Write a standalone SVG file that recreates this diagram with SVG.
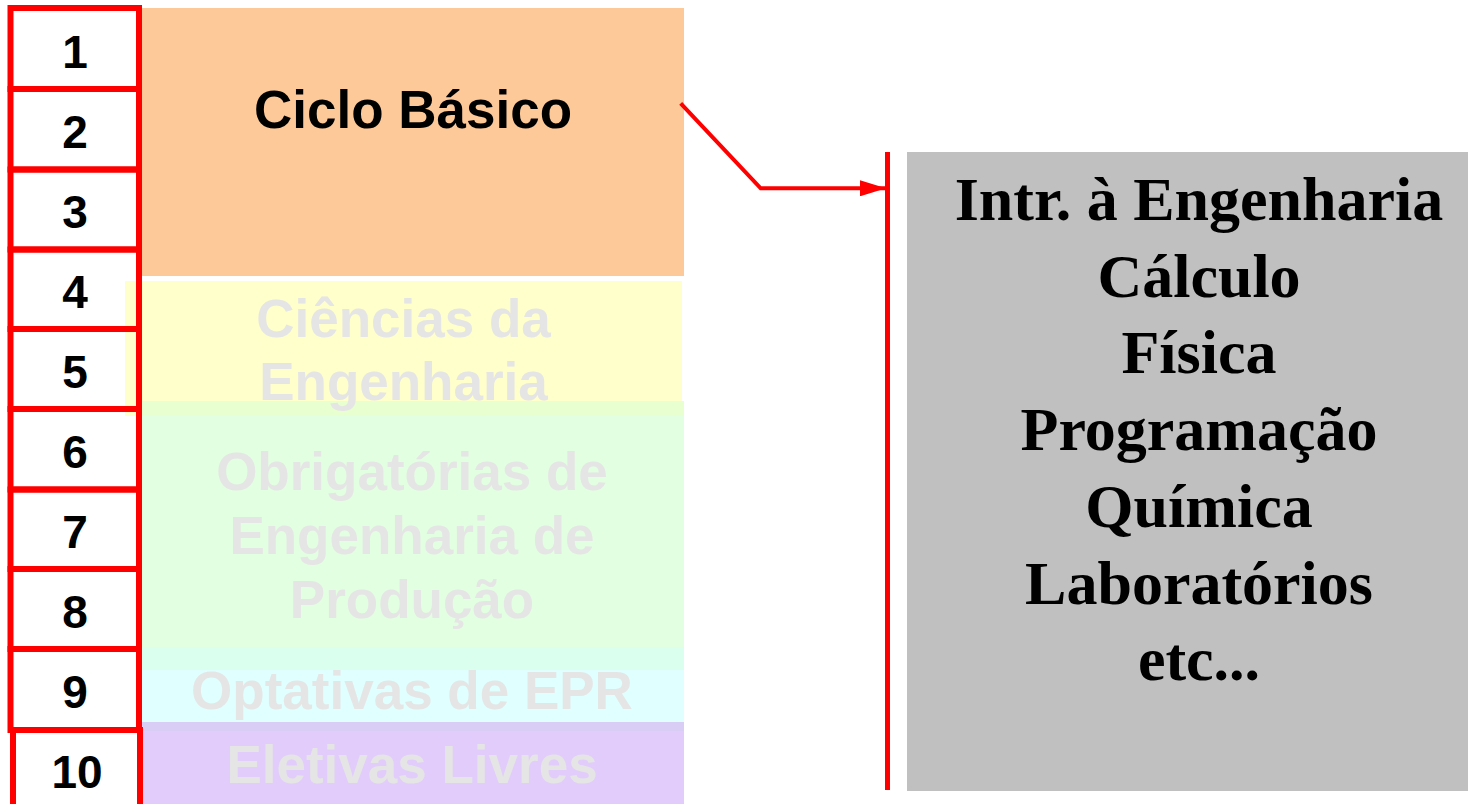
<svg xmlns="http://www.w3.org/2000/svg" width="1468" height="804" viewBox="0 0 1468 804">
<style>
.num{font-family:"Liberation Sans",Arial,sans-serif;font-weight:bold;font-size:46px;fill:#000;text-anchor:middle}
.blk{font-family:"Liberation Sans",Arial,sans-serif;font-weight:bold;font-size:53px;text-anchor:middle}
.fade{fill:#E5E5E5}
.box{fill:none;stroke:#FF0000;stroke-width:6}
.ser{font-family:"Liberation Serif","Times New Roman",serif;font-weight:bold;font-size:62px;fill:#000;text-anchor:middle}
</style>
<defs>
<marker id="ah" markerWidth="7" markerHeight="4" refX="6.5" refY="2" orient="auto" markerUnits="strokeWidth">
<path d="M0,0 L6.5,2 L0,4 Z" fill="#FF0000"/>
</marker>
</defs>
<rect width="1468" height="804" fill="#FFFFFF"/>
<g id="ciclo-basico">
<rect x="142" y="8" width="542" height="268" fill="#FDC998"/>
<text class="blk" x="413" y="128">Ciclo Básico</text>
</g>
<g id="obrigatorias">
<rect x="142" y="401" width="542" height="269" fill="#E3FFE1"/>
<rect x="142" y="401" width="542" height="15" fill="#E8FFD0"/>
<text class="blk fade" x="412" y="490">Obrigatórias de</text>
<text class="blk fade" x="412" y="554">Engenharia de</text>
<text class="blk fade" x="412" y="618">Produção</text>
</g>
<g id="ciencias">
<rect x="125" y="281" width="557" height="120" fill="#FFFFCC"/>
<rect x="125" y="401" width="17" height="15" fill="#FFFFCC"/>
<text class="blk fade" x="403.5" y="337">Ciências da</text>
<text class="blk fade" x="403.5" y="400">Engenharia</text>
</g>
<g id="optativas">
<rect x="142" y="647" width="542" height="84" fill="#E0FFFF"/>
<rect x="142" y="647" width="542" height="23" fill="#DAFFEE"/>
<text class="blk fade" x="412" y="709">Optativas de EPR</text>
</g>
<g id="eletivas">
<rect x="142" y="722" width="542" height="82" fill="#E1CCFB"/>
<rect x="142" y="722" width="542" height="9" fill="#D9CDF6"/>
<text class="blk fade" x="412" y="783">Eletivas Livres</text>
</g>
<g id="semestres">
<rect class="box" x="10.5" y="8" width="128.5" height="81"/>
<rect class="box" x="10.5" y="89" width="128.5" height="80.5"/>
<rect class="box" x="10.5" y="169.5" width="128.5" height="80"/>
<rect class="box" x="10.5" y="249.5" width="128.5" height="79.5"/>
<rect class="box" x="10.5" y="329" width="128.5" height="80"/>
<rect class="box" x="10.5" y="409" width="128.5" height="80.5"/>
<rect class="box" x="10.5" y="489.5" width="128.5" height="79.5"/>
<rect class="box" x="10.5" y="569" width="128.5" height="80"/>
<rect class="box" x="10.5" y="649" width="128.5" height="81"/>
<rect class="box" x="13" y="730" width="127" height="84"/>
<text class="num" x="75" y="68">1</text>
<text class="num" x="75" y="148">2</text>
<text class="num" x="75" y="228">3</text>
<text class="num" x="75" y="308">4</text>
<text class="num" x="75" y="388">5</text>
<text class="num" x="75" y="468">6</text>
<text class="num" x="75" y="548">7</text>
<text class="num" x="75" y="628">8</text>
<text class="num" x="75" y="708">9</text>
<text class="num" x="77" y="788">10</text>
</g>
<g id="connectors">
<polyline points="680.7,103.3 760.7,188.3 886,188.3" fill="none" stroke="#FF0000" stroke-width="4" marker-end="url(#ah)"/>
<line x1="887.5" y1="152" x2="887.5" y2="790" stroke="#FF0000" stroke-width="5"/>
</g>
<g id="disciplinas">
<rect x="907" y="152" width="561" height="639" fill="#C0C0C0"/>
<text class="ser" x="1199" y="220">Intr. à Engenharia</text>
<text class="ser" x="1199" y="296.7">Cálculo</text>
<text class="ser" x="1199" y="373.4">Física</text>
<text class="ser" x="1199" y="450">Programação</text>
<text class="ser" x="1199" y="526.8">Química</text>
<text class="ser" x="1199" y="603.5">Laboratórios</text>
<text class="ser" x="1199" y="680.2">etc...</text>
</g>
</svg>
